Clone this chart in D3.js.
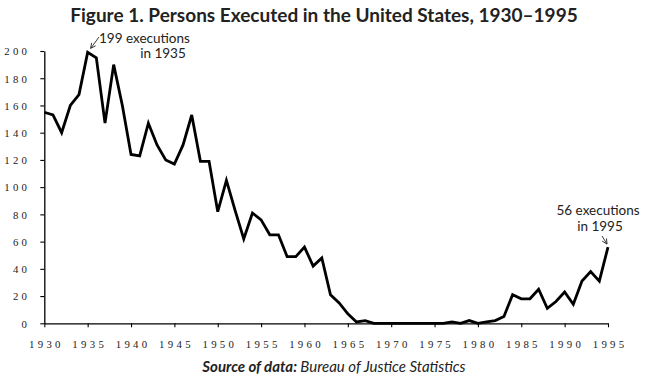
<!DOCTYPE html>
<html>
<head>
<meta charset="utf-8">
<script src="https://cdn.jsdelivr.net/npm/d3@7"></script>
<style>
  body { margin: 0; background: #fff; }
  .tick-label { font-family: "Liberation Serif", serif; font-size: 10.8px; letter-spacing: 3.3px; fill: #222; }
  .note { font-family: "Lato", "Open Sans", sans-serif; font-size: 13.5px; fill: #222; }
</style>
</head>
<body>
<svg id="chart" width="651" height="379"></svg>
<script>
// years and persons executed (BJS)
const years = d3.range(1930, 1996);
const executions = [
  155, 153, 140, 160, 168, 199, 195, 147, 190, 160,
  124, 123, 147, 131, 120, 117, 131, 153, 119, 119,
  82, 105, 83, 62, 81, 76, 65, 65, 49, 49,
  56, 42, 48, 21, 15, 7, 1, 2, 0, 0,
  0, 0, 0, 0, 0, 0, 0, 1, 0, 2,
  0, 1, 2, 5, 21, 18, 18, 25, 11, 16,
  23, 14, 31, 38, 31, 56
];
const xTicks = d3.range(1930, 1996, 5);
const yTicks = d3.range(0, 201, 20);

const svg = d3.select('#chart');

const x = d3.scaleLinear().domain([1930, 1995]).range([44.3, 608]);
const y = d3.scaleLinear().domain([0, 200]).range([323.3, 51]);

const data = years.map((yr, i) => ({ year: yr, value: executions[i] }));

// title
svg.append('text')
  .attr('x', 324).attr('y', 22)
  .attr('text-anchor', 'middle')
  .style('font-family', 'Lato, sans-serif')
  .style('font-weight', 'bold')
  .style('font-size', '19px')
  .style('fill', '#222')
  .text('Figure 1. Persons Executed in the United States, 1930\u20131995');

// axes
const xAxis = svg.append('g')
  .attr('transform', `translate(0,${y(0)})`)
  .call(d3.axisBottom(x).tickValues(xTicks).tickSize(4).tickSizeOuter(0).tickFormat(d => d));
const yAxis = svg.append('g')
  .attr('transform', `translate(${x(1930)},0)`)
  .call(d3.axisLeft(y).tickValues(yTicks).tickSize(4).tickSizeOuter(0).tickFormat(d => d));

[xAxis, yAxis].forEach(g => {
  g.select('.domain').attr('stroke', '#000').attr('stroke-width', 1.3);
  g.selectAll('.tick line').attr('stroke', '#000').attr('stroke-width', 1.1);
  g.selectAll('.tick text').attr('class', 'tick-label').attr('fill', null);
});
xAxis.selectAll('.tick text').attr('dy', 0).attr('y', 25).attr('dx', 1.6);
yAxis.selectAll('.tick text').attr('x', -14).attr('dy', '0.35em');

// series line
const line = d3.line().x(d => x(d.year)).y(d => y(d.value));
svg.append('path')
  .datum(data)
  .attr('d', line)
  .attr('fill', 'none')
  .attr('stroke', '#000')
  .attr('stroke-width', 2.8)
  .attr('stroke-linejoin', 'miter');

// arrow marker
svg.append('defs').append('marker')
  .attr('id', 'arr')
  .attr('viewBox', '0 0 10 10')
  .attr('refX', 9).attr('refY', 5)
  .attr('markerWidth', 7).attr('markerHeight', 7)
  .attr('orient', 'auto')
  .append('path')
  .attr('d', 'M1,1 L9,5 L1,9')
  .attr('fill', 'none')
  .attr('stroke', '#222')
  .attr('stroke-width', 1.3);

// annotations
const peak = data.find(d => d.year === 1935);
const last = data[data.length - 1];

svg.append('text').attr('class', 'note').attr('x', 99).attr('y', 43).text('199 executions');
svg.append('text').attr('class', 'note').attr('x', 163).attr('y', 58).attr('text-anchor', 'middle').text('in 1935');
svg.append('line')
  .attr('x1', 99).attr('y1', 37)
  .attr('x2', x(peak.year) + 3).attr('y2', y(peak.value) - 4)
  .attr('stroke', '#222').attr('stroke-width', 0.9)
  .attr('marker-end', 'url(#arr)');

svg.append('text').attr('class', 'note').attr('x', 598).attr('y', 215).attr('text-anchor', 'middle').text('56 executions');
svg.append('text').attr('class', 'note').attr('x', 600).attr('y', 231).attr('text-anchor', 'middle').text('in 1995');
svg.append('line')
  .attr('x1', 602).attr('y1', 236)
  .attr('x2', x(last.year) - 1).attr('y2', y(last.value) - 3)
  .attr('stroke', '#222').attr('stroke-width', 0.9)
  .attr('marker-end', 'url(#arr)');

// source
const src = svg.append('text')
  .attr('x', 334).attr('y', 372)
  .attr('text-anchor', 'middle')
  .style('font-family', 'Lato, sans-serif')
  .style('font-size', '15px')
  .style('font-style', 'italic')
  .style('fill', '#222');
src.append('tspan').style('font-weight', 'bold').text('Source of data: ');
src.append('tspan').text('Bureau of Justice Statistics');
</script>
</body>
</html>
